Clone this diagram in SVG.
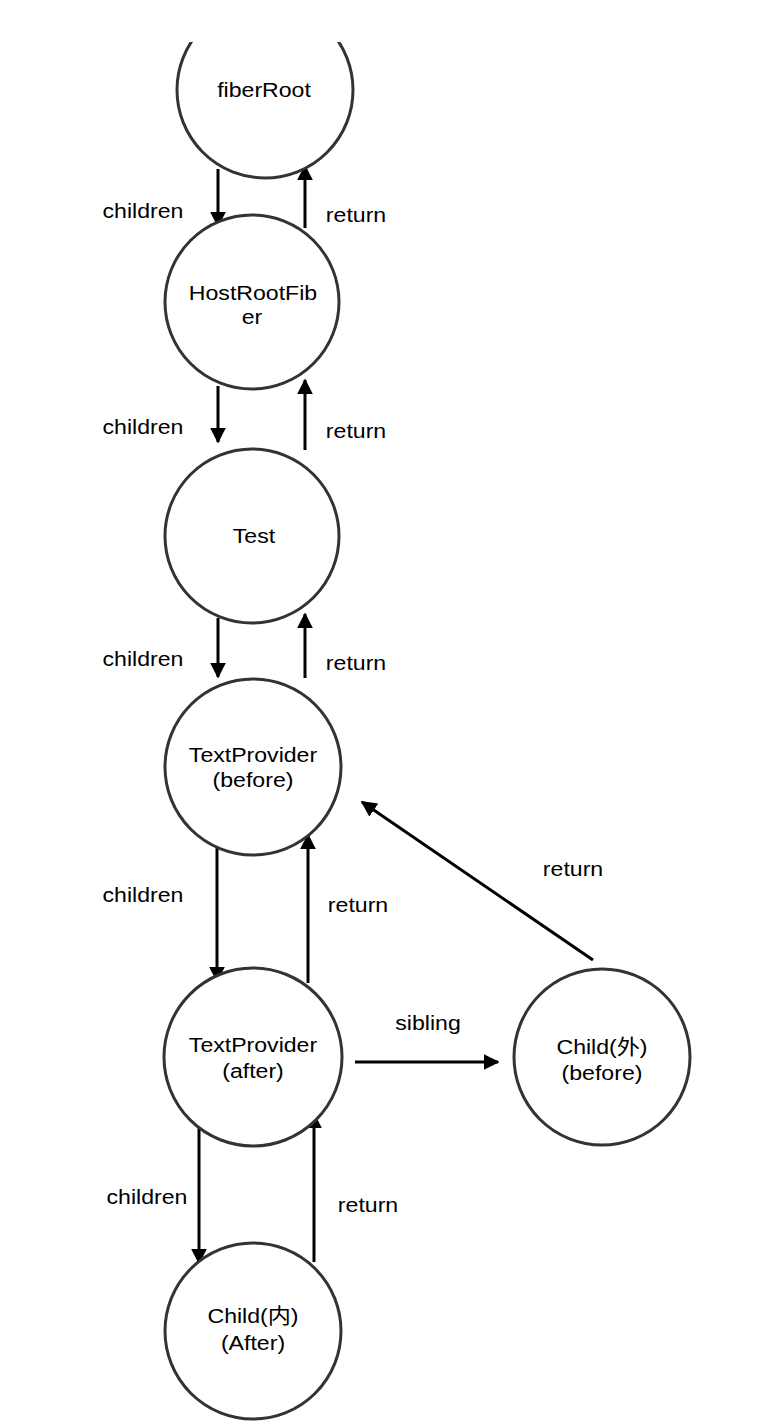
<svg xmlns="http://www.w3.org/2000/svg" width="772" height="1428" viewBox="0 0 772 1428">
<style>
.node{fill:#fff;stroke:#333;stroke-width:3}
.t{font-family:"Liberation Sans",Arial,"Noto Sans CJK SC",sans-serif;font-size:21px;fill:#000;text-anchor:middle}
.e{stroke:#000;stroke-width:3;fill:none;marker-end:url(#ah)}
</style>
<defs>
<marker id="ah" viewBox="0 0 10 10" refX="9" refY="5" markerWidth="5.3" markerHeight="5.3" markerUnits="strokeWidth" orient="auto">
<path d="M0,0 L10,5 L0,10 z" fill="#000"/>
</marker>
<clipPath id="topclip"><rect x="0" y="42" width="772" height="1386"/></clipPath>
</defs>
<rect width="772" height="1428" fill="#fff"/>
<g id="connectors">
<line class="e" x1="218" y1="169" x2="218" y2="226"/>
<line class="e" x1="305" y1="228" x2="305" y2="166"/>
<line class="e" x1="218" y1="386" x2="218" y2="442"/>
<line class="e" x1="305" y1="450" x2="305" y2="380"/>
<line class="e" x1="218" y1="618" x2="218" y2="677"/>
<line class="e" x1="305" y1="678" x2="305" y2="614"/>
<line class="e" x1="217" y1="847" x2="217" y2="981"/>
<line class="e" x1="308" y1="983" x2="308" y2="835"/>
<line class="e" x1="355" y1="1062" x2="498" y2="1062"/>
<line class="e" x1="593" y1="960" x2="362" y2="802"/>
<line class="e" x1="199" y1="1128" x2="199" y2="1263"/>
<line class="e" x1="314" y1="1262" x2="314" y2="1114"/>
<text class="t" transform="translate(143,0) scale(1.1,1)" y="218">children</text>
<text class="t" transform="translate(143,0) scale(1.1,1)" y="434">children</text>
<text class="t" transform="translate(143,0) scale(1.1,1)" y="666">children</text>
<text class="t" transform="translate(143,0) scale(1.1,1)" y="902">children</text>
<text class="t" transform="translate(147,0) scale(1.1,1)" y="1204">children</text>
<text class="t" transform="translate(356,0) scale(1.1,1)" y="222">return</text>
<text class="t" transform="translate(356,0) scale(1.1,1)" y="438">return</text>
<text class="t" transform="translate(356,0) scale(1.1,1)" y="670">return</text>
<text class="t" transform="translate(358,0) scale(1.1,1)" y="912">return</text>
<text class="t" transform="translate(368,0) scale(1.1,1)" y="1212">return</text>
<text class="t" transform="translate(573,0) scale(1.1,1)" y="876">return</text>
<text class="t" transform="translate(428,0) scale(1.1,1)" y="1030">sibling</text>
</g>
<g id="fiberRoot" clip-path="url(#topclip)">
<circle class="node" cx="265" cy="90" r="88"/>
<text class="t" transform="translate(264,0) scale(1.1,1)" y="97">fiberRoot</text>
</g>
<g id="HostRootFiber">
<circle class="node" cx="252" cy="302" r="87"/>
<text class="t" transform="translate(253,0) scale(1.1,1)" y="300">HostRootFib</text>
<text class="t" transform="translate(252,0) scale(1.1,1)" y="324">er</text>
</g>
<g id="Test">
<circle class="node" cx="252" cy="536" r="87"/>
<text class="t" transform="translate(254,0) scale(1.1,1)" y="543">Test</text>
</g>
<g id="TextProviderBefore">
<circle class="node" cx="253" cy="767" r="88"/>
<text class="t" transform="translate(253,0) scale(1.1,1)" y="762">TextProvider</text>
<text class="t" transform="translate(253,0) scale(1.1,1)" y="787">(before)</text>
</g>
<g id="TextProviderAfter">
<circle class="node" cx="253" cy="1057" r="89"/>
<text class="t" transform="translate(253,0) scale(1.1,1)" y="1052">TextProvider</text>
<text class="t" transform="translate(253,0) scale(1.1,1)" y="1078">(after)</text>
</g>
<g id="ChildOuter">
<circle class="node" cx="602" cy="1057" r="88"/>
<text class="t" transform="translate(602,0) scale(1.1,1)" y="1054">Child(外)</text>
<text class="t" transform="translate(602,0) scale(1.1,1)" y="1080">(before)</text>
</g>
<g id="ChildInner">
<circle class="node" cx="253" cy="1331" r="88"/>
<text class="t" transform="translate(253,0) scale(1.1,1)" y="1323">Child(内)</text>
<text class="t" transform="translate(253,0) scale(1.1,1)" y="1350">(After)</text>
</g>
</svg>
